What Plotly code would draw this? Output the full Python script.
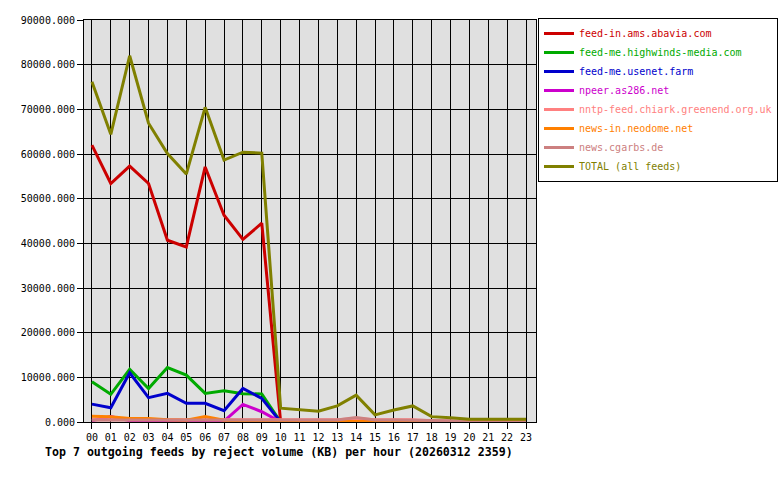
import plotly.graph_objects as go

hours = [f"{h:02d}" for h in range(24)]

feed_names = [
    "feed-in.ams.abavia.com",
    "feed-me.highwinds-media.com",
    "feed-me.usenet.farm",
    "npeer.as286.net",
    "nntp-feed.chiark.greenend.org.uk",
    "news-in.neodome.net",
    "news.cgarbs.de",
    "TOTAL (all feeds)",
]
colors = ["#cc0000", "#00aa00", "#0000cc", "#cc00cc", "#ff8080", "#ff8000", "#cc8080", "#808000"]

abavia = [62000, 53400, 57300, 53400, 40700, 39200, 57100, 46300, 40900, 44500,
          0, 0, 0, 0, 0, 0, 0, 0, 0, 0, 0, 0, 0, 0]
highwinds = [9000, 6200, 11800, 7500, 12200, 10500, 6400, 7000, 6350, 6270,
             0, 0, 0, 0, 0, 0, 0, 0, 0, 0, 0, 0, 0, 0]
usenetfarm = [4000, 3200, 11000, 5450, 6400, 4200, 4200, 2550, 7500, 5300,
              0, 0, 0, 0, 0, 0, 0, 0, 0, 0, 0, 0, 0, 0]
as286 = [300, 1200, 300, 0, 0, 0, 0, 200, 3950, 2300,
         0, 0, 0, 0, 0, 0, 0, 0, 0, 0, 0, 0, 0, 0]
chiark = [500, 500, 500, 500, 400, 400, 500, 500, 500, 500,
          500, 500, 500, 500, 800, 500, 500, 500, 300, 200, 0, 0, 0, 0]
neodome = [1300, 1200, 800, 800, 500, 400, 1200, 400, 200, 100,
           100, 100, 100, 100, 100, 100, 100, 100, 100, 100, 100, 100, 100, 100]
cgarbs = [450, 450, 450, 450, 450, 450, 450, 450, 450, 450,
          450, 450, 450, 450, 1000, 450, 450, 450, 400, 300, 0, 0, 0, 0]
total = [76200, 64400, 82000, 66900, 60100, 55500, 70450, 58650, 60400, 60200,
         3100, 2700, 2400, 3600, 6000, 1600, 2700, 3600, 1200, 950, 600, 600, 600, 600]

series = [abavia, highwinds, usenetfarm, as286, chiark, neodome, cgarbs, total]

y_ticks = [0, 10000, 20000, 30000, 40000, 50000, 60000, 70000, 80000, 90000]

fig = go.Figure()
for name, col, vals in zip(feed_names, colors, series):
    fig.add_trace(go.Scatter(
        x=list(range(24)), y=vals,
        name=f"<span style='color:{col}'>{name}</span>",
        mode="lines",
        line=dict(color=col, width=3),
    ))

mono = "DejaVu Sans Mono"
fig.update_layout(
    width=780, height=480,
    margin=dict(l=84, r=244, t=20, b=58, autoexpand=False),
    paper_bgcolor="white",
    plot_bgcolor="#e0e0e0",
    font=dict(family=mono, size=10, color="black"),
    showlegend=True,
    legend=dict(
        x=1.0044, y=1.005, xanchor="left", yanchor="top",
        bgcolor="white", bordercolor="black", borderwidth=1,
        font=dict(family=mono, size=10),
        tracegroupgap=0, itemwidth=30,
    ),
    xaxis=dict(
        range=[-0.42, 23.53],
        tickmode="array", tickvals=list(range(24)), ticktext=hours,
        showgrid=True, gridcolor="black", gridwidth=1,
        showline=True, linecolor="black", linewidth=1, mirror=True,
        ticks="outside", ticklen=6, tickcolor="black",
        zeroline=False,
    ),
    yaxis=dict(
        range=[0, 90000],
        tickmode="array", tickvals=y_ticks,
        ticktext=[f"{v:.3f}" for v in y_ticks],
        showgrid=True, gridcolor="black", gridwidth=1,
        showline=True, linecolor="black", linewidth=1, mirror=True,
        ticks="outside", ticklen=6, tickcolor="black",
        zeroline=False,
    ),
    annotations=[dict(
        text="<b>Top 7 outgoing feeds by reject volume (KB) per hour (20260312 2359)</b>",
        xref="paper", yref="paper", x=-0.0907, y=-0.0746,
        xanchor="left", yanchor="middle", showarrow=False,
        font=dict(family=mono, size=11.6, color="black"),
    )],
)

fig.write_html("out.html")
